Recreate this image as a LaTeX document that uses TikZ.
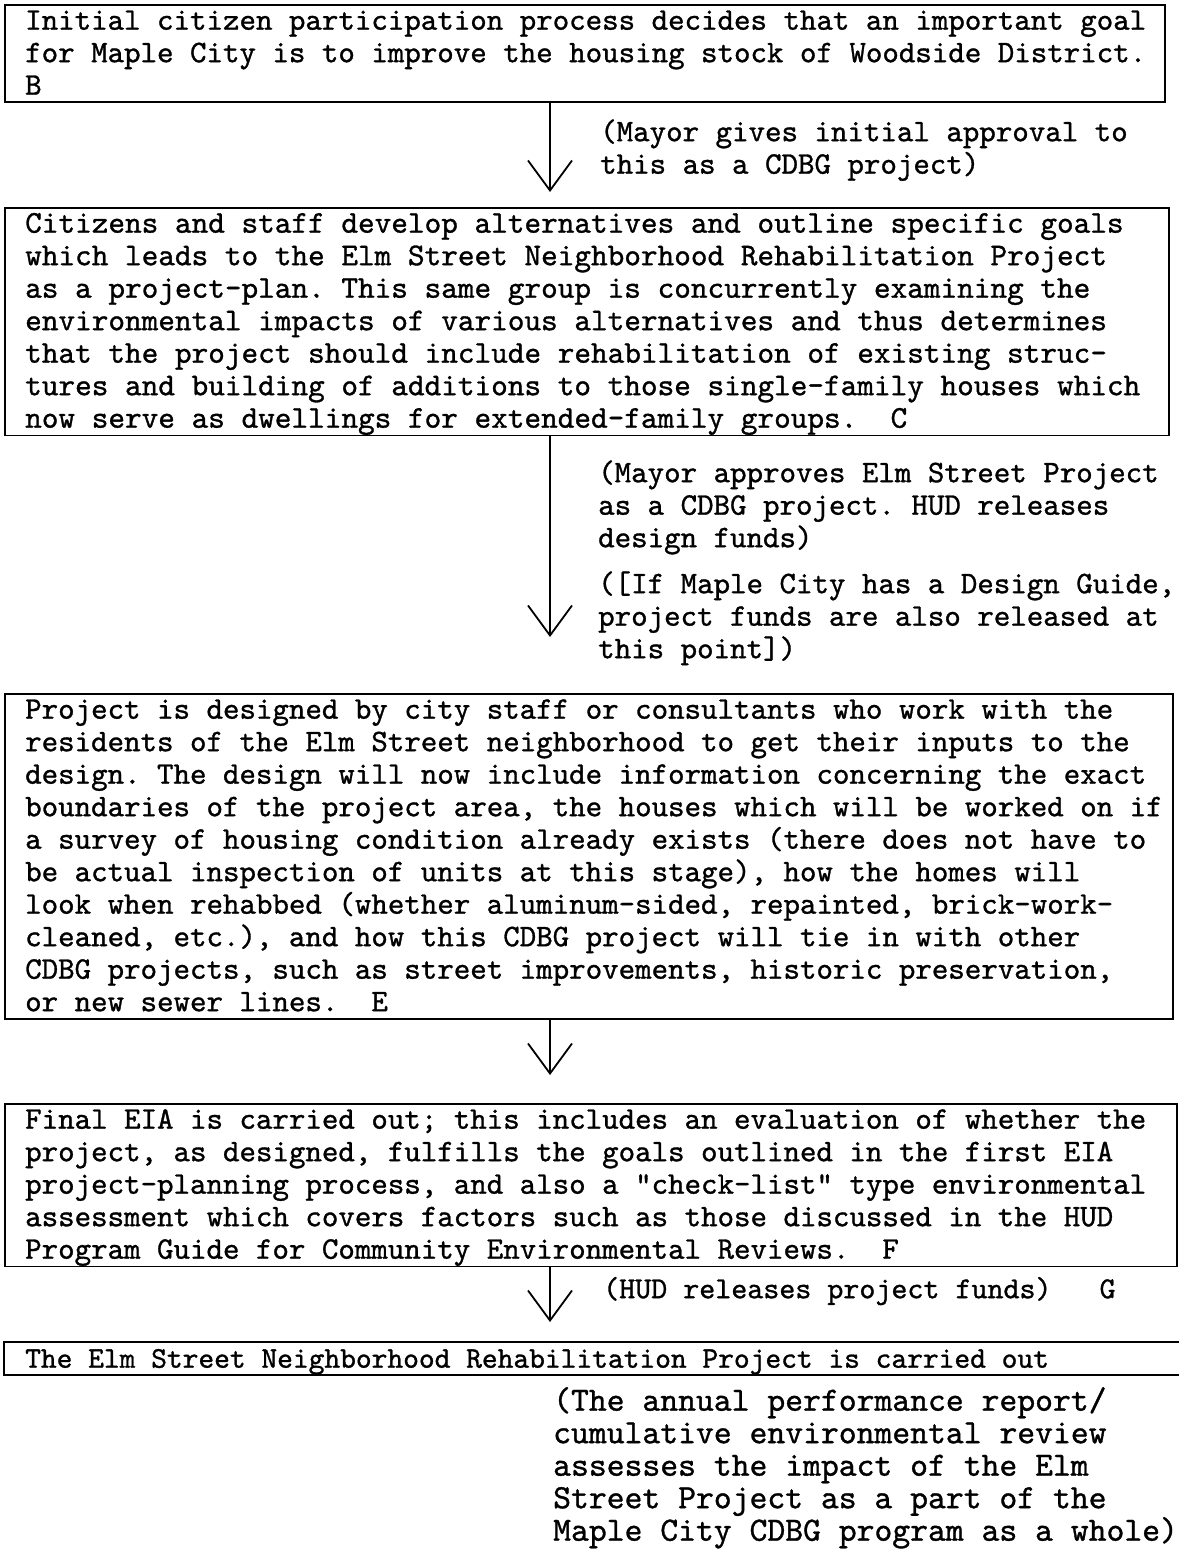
\documentclass[tikz,border=0pt]{standalone}
\usepackage{fontspec}
\setmonofont{lmmono10-regular.otf}[FakeBold=1]
\usetikzlibrary{arrows.meta}
\newcommand{\bs}{\rule[-7pt]{0pt}{32.5pt}}
\tikzset{
  tx/.style={font=\ttfamily\fontsize{#1}{32.5}\selectfont\frenchspacing, anchor=north west, inner sep=0pt, align=left},
  boxr/.style={draw, line width=1.6pt, anchor=north west, inner sep=0pt},
  arr/.style={line width=1.8pt, -{Straight Barb[length=30pt,width=44pt]}}
}
\begin{document}
\begin{tikzpicture}[x=1pt,y=-1pt]
\useasboundingbox[fill=white] (0,0) rectangle (1178,1549);
\coordinate (ax) at (550,0);

% boxes
\node[boxr, minimum width=1160pt, minimum height=97.5pt] (b1) at (4,4) {};
\node[boxr, minimum width=1164pt, minimum height=227.5pt] (b2) at (4,207) {};
\node[boxr, minimum width=1168pt, minimum height=325pt] (b3) at (4,693) {};
\node[boxr, minimum width=1172pt, minimum height=162.5pt] (b4) at (4,1103) {};
\node[anchor=north west, inner sep=0pt, minimum width=1180pt, minimum height=32.5pt] (b5) at (4,1342) {};
\draw[line width=1.6pt] (b5.north east) -- (b5.north west) -- (b5.south west) -- (b5.south east);

% box texts
\node[tx=31.4] (t1) at (25,4) {\bs Initial citizen participation process decides that an important goal\\
for Maple City is to improve the housing stock of Woodside District.\\
B};

\node[tx=31.7] (t2) at (25,207) {\bs Citizens and staff develop alternatives and outline specific goals\\
which leads to the Elm Street Neighborhood Rehabilitation Project\\
as a project-plan. This same group is concurrently examining the\\
environmental impacts of various alternatives and thus determines\\
that the project should include rehabilitation of existing struc-\\
tures and building of additions to those single-family houses which\\
now serve as dwellings for extended-family groups.~~C};

\node[tx=31.4] (t3) at (25,693) {\bs Project is designed by city staff or consultants who work with the\\
residents of the Elm Street neighborhood to get their inputs to the\\
design. The design will now include information concerning the exact\\
boundaries of the project area, the houses which will be worked on if\\
a survey of housing condition already exists (there does not have to\\
be actual inspection of units at this stage), how the homes will\\
look when rehabbed (whether aluminum-sided, repainted, brick-work-\\
cleaned, etc.), and how this CDBG project will tie in with other\\
CDBG projects, such as street improvements, historic preservation,\\
or new sewer lines.~~E};

\node[tx=31.4] (t4) at (25,1103) {\bs Final EIA is carried out; this includes an evaluation of whether the\\
project, as designed, fulfills the goals outlined in the first EIA\\
project-planning process, and also a "check-list" type environmental\\
assessment which covers factors such as those discussed in the HUD\\
Program Guide for Community Environmental Reviews.~~F};

\node[tx=30] (t5) at (25,1342) {\bs The Elm Street Neighborhood Rehabilitation Project is carried out};

% side notes
\node[tx=31.4] (n1) at (600,115.5) {\bs(Mayor gives initial approval to\\
this as a CDBG project)};

\node[tx=31.4] (n2) at (598,456.5) {\bs(Mayor approves Elm Street Project\\
as a CDBG project. HUD releases\\
design funds)};

\node[tx=31.4] (n3) at (598,567.5) {\bs([If Maple City has a Design Guide,\\
project funds are also released at\\
this point])};

\node[tx=30.5] (n4) at (603,1272.5) {\bs(HUD releases project funds)~~~G};

\node[tx=34] (n5) at (553,1385) {\bs(The annual performance report/\\
cumulative environmental review\\
assesses the impact of the Elm\\
Street Project as a part of the\\
Maple City CDBG program as a whole)};

% connectors
\draw[arr, shorten >=15pt] (b1.south -| ax) -- (b2.north -| ax);
\draw[arr, shorten >=56pt] (b2.south -| ax) -- (b3.north -| ax);
\draw[arr, shorten >=28pt] (b3.south -| ax) -- (b4.north -| ax);
\draw[arr, shorten >=20pt] (b4.south -| ax) -- (b5.north -| ax);
\end{tikzpicture}
\end{document}
